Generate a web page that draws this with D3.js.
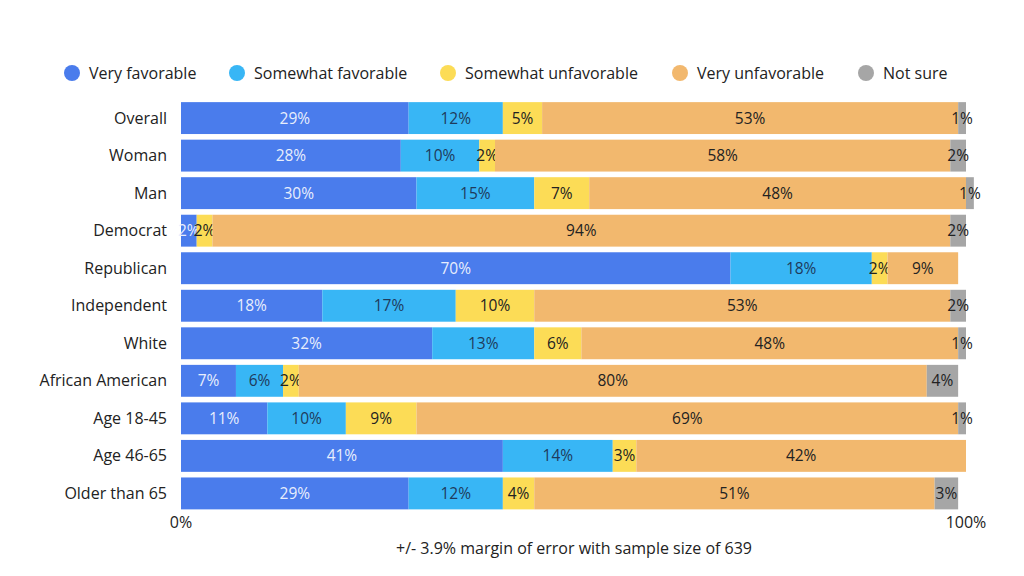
<!DOCTYPE html><html><head><meta charset="utf-8"><script src="https://cdn.jsdelivr.net/npm/d3@7"></script>
<style>body{margin:0;background:#fff}text{font-family:"Open Sans",sans-serif}</style></head><body><svg id="c" width="1024" height="576"></svg><script>
const categories=["Overall","Woman","Man","Democrat","Republican","Independent","White","African American","Age 18-45","Age 46-65","Older than 65"];
const series=["Very favorable","Somewhat favorable","Somewhat unfavorable","Very unfavorable","Not sure"];
const veryFav=[29,28,30,2,70,18,32,7,11,41,29];
const somewhatFav=[12,10,15,0,18,17,13,6,10,14,12];
const somewhatUnfav=[5,2,7,2,2,10,6,2,9,3,4];
const veryUnfav=[53,58,48,94,9,53,48,80,69,42,51];
const notSure=[1,2,1,2,0,2,1,4,1,0,3];
const colors=["#4a7cec","#38b6f5","#fcdc56","#f2b86e","#a6a6a6"];
const labelColors=["#e8eefc","#1f3b5c","#222","#222","#222"];
const xTicks=[0,100];
const vals=[veryFav,somewhatFav,somewhatUnfav,veryUnfav,notSure];
const svg=d3.select("#c");
const x=d3.scaleLinear().domain([0,100]).range([181,966]);
const y=d3.scaleBand().domain(categories).range([99.5,512]).paddingInner(0.15).paddingOuter(0.07);
categories.forEach((c,i)=>{
  let acc=0;
  vals.forEach((v,s)=>{
    const val=v[i]; if(!val) return;
    const x0=x(acc),x1=x(acc+val);acc+=val;
    svg.append("rect").attr("x",x0).attr("y",y(c)).attr("width",x1-x0).attr("height",y.bandwidth()).attr("fill",colors[s]);
    svg.append("text").attr("x",(x0+x1)/2).attr("y",y(c)+y.bandwidth()/2).attr("dy","0.35em").attr("text-anchor","middle")
      .attr("font-size",15.5).attr("fill",labelColors[s]).text(val+"%");
  });
  svg.append("text").attr("x",167).attr("y",y(c)+y.bandwidth()/2).attr("dy","0.35em").attr("text-anchor","end").attr("font-size",16).attr("fill","#222").text(c);
});
xTicks.forEach(t=>svg.append("text").attr("x",x(t)).attr("y",528).attr("text-anchor","middle").attr("font-size",16).attr("fill","#222").text(t+"%"));
svg.append("text").attr("x",574).attr("y",554).attr("text-anchor","middle").attr("font-size",16).attr("fill","#222").text("+/- 3.9% margin of error with sample size of 639");
const lx=[72,237,448,680,866];
series.forEach((s,i)=>{
  svg.append("circle").attr("cx",lx[i]).attr("cy",73).attr("r",8).attr("fill",colors[i]);
  svg.append("text").attr("x",lx[i]+17).attr("y",73).attr("dy","0.35em").attr("font-size",16).attr("fill","#222").text(s);
});
</script></body></html>
